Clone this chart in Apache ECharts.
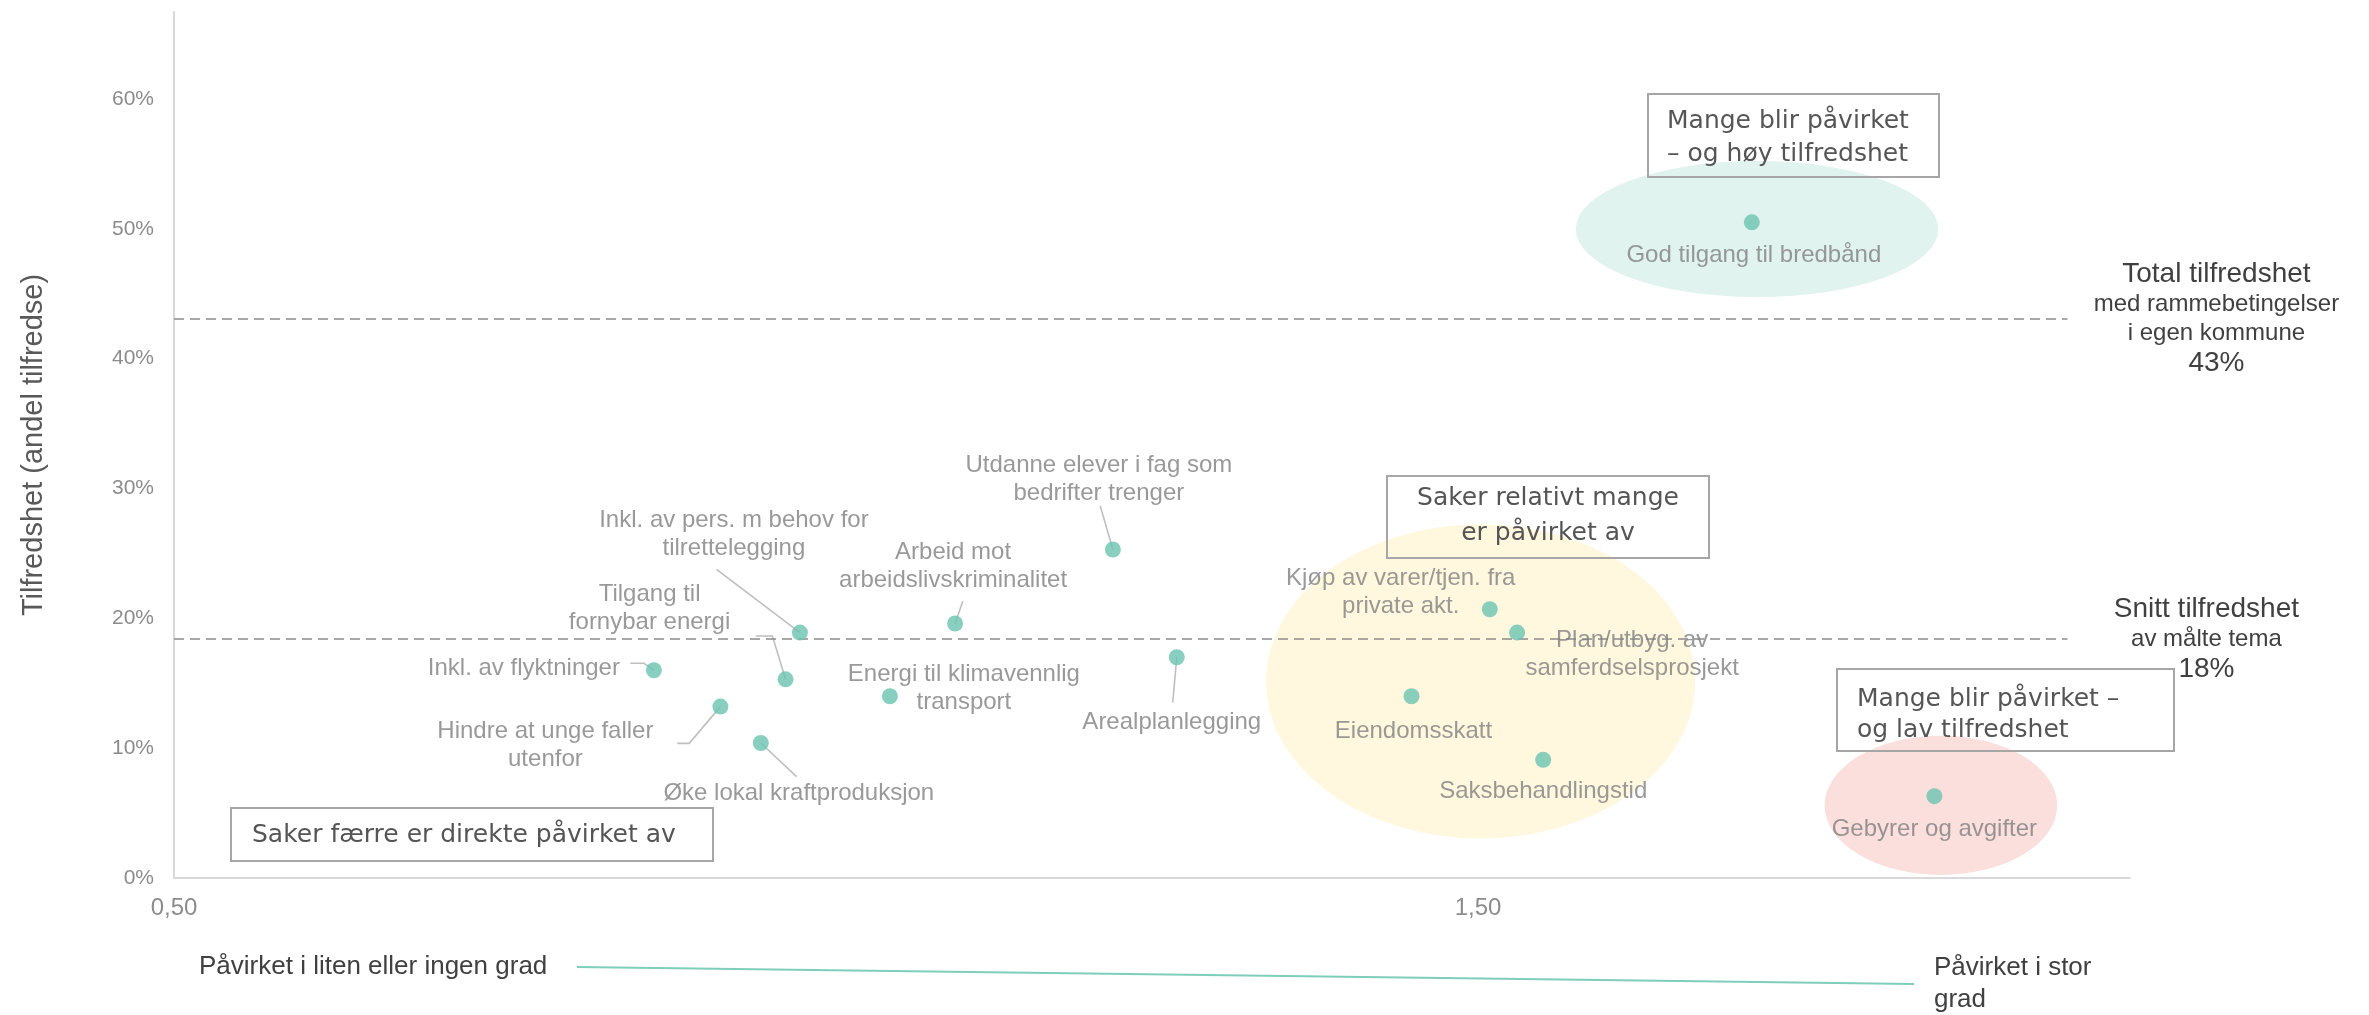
<!DOCTYPE html>
<html><head><meta charset="utf-8">
<script src="https://cdn.jsdelivr.net/npm/echarts@6/dist/echarts.min.js"></script>
<style>html,body{margin:0;padding:0;background:#fff}#c{width:2369px;height:1015px}</style>
</head><body><div id="c"></div>
<script>
// ---- data ----
const topics = ['God tilgang til bredbånd', 'Gebyrer og avgifter', 'Kjøp av varer/tjen. fra\nprivate akt.',
  'Plan/utbyg. av\nsamferdselsprosjekt', 'Eiendomsskatt', 'Saksbehandlingstid', 'Arealplanlegging',
  'Utdanne elever i fag som\nbedrifter trenger', 'Arbeid mot\narbeidslivskriminalitet',
  'Energi til klimavennlig\ntransport', 'Inkl. av pers. m behov for\ntilrettelegging',
  'Tilgang til\nfornybar energi', 'Inkl. av flyktninger', 'Hindre at unge faller\nutenfor',
  'Øke lokal kraftproduksjon'];
const impact = [1.710, 1.850, 1.509, 1.530, 1.449, 1.550, 1.269, 1.220, 1.099, 1.049, 0.980, 0.969, 0.868, 0.919, 0.950];
const satisfaction = [0.505, 0.063, 0.207, 0.189, 0.140, 0.091, 0.170, 0.253, 0.196, 0.140, 0.189, 0.153, 0.160, 0.132, 0.104];

const refValues = [0.431, 0.184];
const refTitles = ['Total tilfredshet', 'Snitt tilfredshet'];
const refSubtitles = [['med rammebetingelser', 'i egen kommune'], ['av målte tema']];
const refLineEnd = 1.952;

const xTickValues = [0.5, 1.5];
const yTickValues = [0, 0.1, 0.2, 0.3, 0.4, 0.5, 0.6];

// highlighted zones (centre x, centre y, radius x, radius y) in axis units
const zoneX = [1.714, 1.502, 1.855];
const zoneY = [0.4998, 0.1515, 0.056];
const zoneRx = [0.139, 0.1645, 0.0892];
const zoneRy = [0.0524, 0.121, 0.0536];

// leader lines (axis units)
const leaderLines = [
  [[1.2103, 0.2866], [1.220, 0.253]],
  [[1.1049, 0.2132], [1.099, 0.196]],
  [[1.269, 0.170], [1.2659, 0.1352]],
  [[0.916, 0.2377], [0.980, 0.189]],
  [[0.9461, 0.1864], [0.9589, 0.1864], [0.969, 0.153]],
  [[0.8499, 0.1654], [0.8604, 0.1654], [0.868, 0.160]],
  [[0.8859, 0.1037], [0.8951, 0.1037], [0.919, 0.132]],
  [[0.950, 0.104], [0.9774, 0.0781]]
];

// ---- layout / style ----
const labelOffsets = [[2, 33], [0, 33], [-89, -17], [115, 22], [2, 35], [0, 32], [-5, 65], [-14, -70],
  [-2, -57], [74, -8], [-66, -98], [-136, -71], [-130, -2], [-175, 39], [38, 50]];
const zoneColors = ['#e1f3ef', '#fff7de', '#fbdfdc'];
const refLabelDist = [149, 139];
const FONT = "'Liberation Sans', Arial, sans-serif";
const BOXFONT = "'DejaVu Sans', Lato, sans-serif";

const chart = echarts.init(document.getElementById('c'), null, {renderer: 'canvas'});

const scatterData = topics.map((t, i) => ({
  value: [impact[i], satisfaction[i]],
  name: t,
  label: {offset: labelOffsets[i]}
}));

const markData = refValues.map((v, i) => [
  {coord: [0.5, v],
   label: {
     show: true, position: 'end', distance: refLabelDist[i], align: 'center', verticalAlign: 'middle',
     formatter: () => ['{t|' + refTitles[i] + '}'].concat(refSubtitles[i].map(s => '{s|' + s + '}'))
                        .concat(['{t|' + Math.round(v * 100) + '%}']).join('\n'),
     rich: {
       t: {fontSize: 28, lineHeight: 31, color: '#404040', fontFamily: FONT, align: 'center'},
       s: {fontSize: 24, lineHeight: 29, color: '#404040', fontFamily: FONT, align: 'center'}
     }
   }},
  {coord: [refLineEnd, v]}
]);

function boxGroup(x, y, w, h, lines, textX, lineYs, align) {
  const els = [{type: 'rect', z: 100, shape: {x: x, y: y, width: w, height: h},
    style: {fill: 'rgba(0,0,0,0)', stroke: '#a6a6a6', lineWidth: 2}}];
  lines.forEach((l, k) => els.push({type: 'text', z: 101, x: textX, y: lineYs[k],
    style: {text: l, fill: '#555555', font: '25px ' + BOXFONT, textAlign: align, textVerticalAlign: 'middle'}}));
  return els;
}

const option = {
  animation: false,
  backgroundColor: '#fff',
  grid: {left: 174, right: 239, top: 12, bottom: 137},
  xAxis: {
    type: 'value', min: 0.5, max: 2.0, interval: 1,
    axisLine: {show: true, lineStyle: {color: '#d9d9d9', width: 2}},
    axisTick: {show: false}, splitLine: {show: false},
    axisLabel: {margin: 18, color: '#8c8c8c', fontSize: 24, fontFamily: FONT, showMaxLabel: false,
      formatter: v => xTickValues.some(t => Math.abs(t - v) < 1e-6) ? v.toFixed(2).replace('.', ',') : ''}
  },
  yAxis: {
    type: 'value', min: 0, max: 0.667, interval: 0.1,
    name: 'Tilfredshet (andel tilfredse)', nameLocation: 'middle', nameRotate: 90, nameGap: 126,
    nameTextStyle: {fontSize: 29, color: '#595959', fontFamily: FONT},
    axisLine: {show: true, lineStyle: {color: '#d9d9d9', width: 2}},
    axisTick: {show: false}, splitLine: {show: false},
    axisLabel: {margin: 20, color: '#8c8c8c', fontSize: 21, fontFamily: FONT, showMaxLabel: false,
      formatter: v => yTickValues.some(t => Math.abs(t - v) < 1e-6) ? Math.round(v * 100) + '%' : ''}
  },
  series: [
    {
      type: 'custom', name: 'zones', z: 1, silent: true, clip: false,
      encode: {x: 0, y: 1},
      data: zoneX.map((x, i) => [x, zoneY[i], zoneRx[i], zoneRy[i]]),
      renderItem: (params, api) => {
        const c = api.coord([api.value(0), api.value(1)]);
        const s = api.size([api.value(2), api.value(3)]);
        const rx = Math.abs(s[0]), ry = Math.abs(s[1]);
        return {type: 'circle', x: c[0], y: c[1], scaleY: ry / rx,
          shape: {cx: 0, cy: 0, r: rx}, style: {fill: zoneColors[params.dataIndex]}};
      }
    },
    {
      type: 'custom', name: 'leaders', z: 3, silent: true, clip: false,
      encode: {x: 0, y: 1},
      data: leaderLines.map(l => l[0]),
      renderItem: (params, api) => ({
        type: 'polyline',
        shape: {points: leaderLines[params.dataIndex].map(p => api.coord(p))},
        style: {stroke: '#bfbfbf', lineWidth: 1.6, fill: null}
      })
    },
    {
      type: 'scatter', name: 'tema', z: 5,
      symbol: 'circle', symbolSize: 16,
      itemStyle: {color: '#6cc3b0'},
      label: {show: true, position: 'inside', align: 'center', verticalAlign: 'middle',
        formatter: p => p.name, color: '#7f7f7f', fontSize: 24, lineHeight: 28, fontFamily: FONT},
      data: scatterData,
      markLine: {
        silent: true, symbol: ['none', 'none'],
        lineStyle: {color: '#8c8c8c', type: [10, 6], width: 1.6},
        data: markData
      }
    }
  ],
  graphic: [].concat(
    boxGroup(231, 808, 482, 53, ['Saker færre er direkte påvirket av'], 252, [835], 'left'),
    boxGroup(1387, 476, 322, 82, ['Saker relativt mange', 'er påvirket av'], 1548, [498, 533], 'center'),
    boxGroup(1648, 94, 291, 83, ['Mange blir påvirket', '– og høy tilfredshet'], 1667, [121, 154], 'left'),
    boxGroup(1837, 669, 337, 82, ['Mange blir påvirket –', 'og lav tilfredshet'], 1857, [699, 730], 'left'),
    [
      {type: 'text', x: 199, y: 967, style: {text: 'Påvirket i liten eller ingen grad', fill: '#404040',
        font: '26px ' + FONT, textAlign: 'left', textVerticalAlign: 'middle'}},
      {type: 'line', shape: {x1: 577, y1: 967, x2: 1914, y2: 984}, style: {stroke: '#7fcdbb', lineWidth: 2}},
      {type: 'text', x: 1934, y: 968, style: {text: 'Påvirket i stor', fill: '#404040',
        font: '26px ' + FONT, textAlign: 'left', textVerticalAlign: 'middle'}},
      {type: 'text', x: 1934, y: 1000, style: {text: 'grad', fill: '#404040',
        font: '26px ' + FONT, textAlign: 'left', textVerticalAlign: 'middle'}}
    ])
};
chart.setOption(option);
</script>
</body></html>
